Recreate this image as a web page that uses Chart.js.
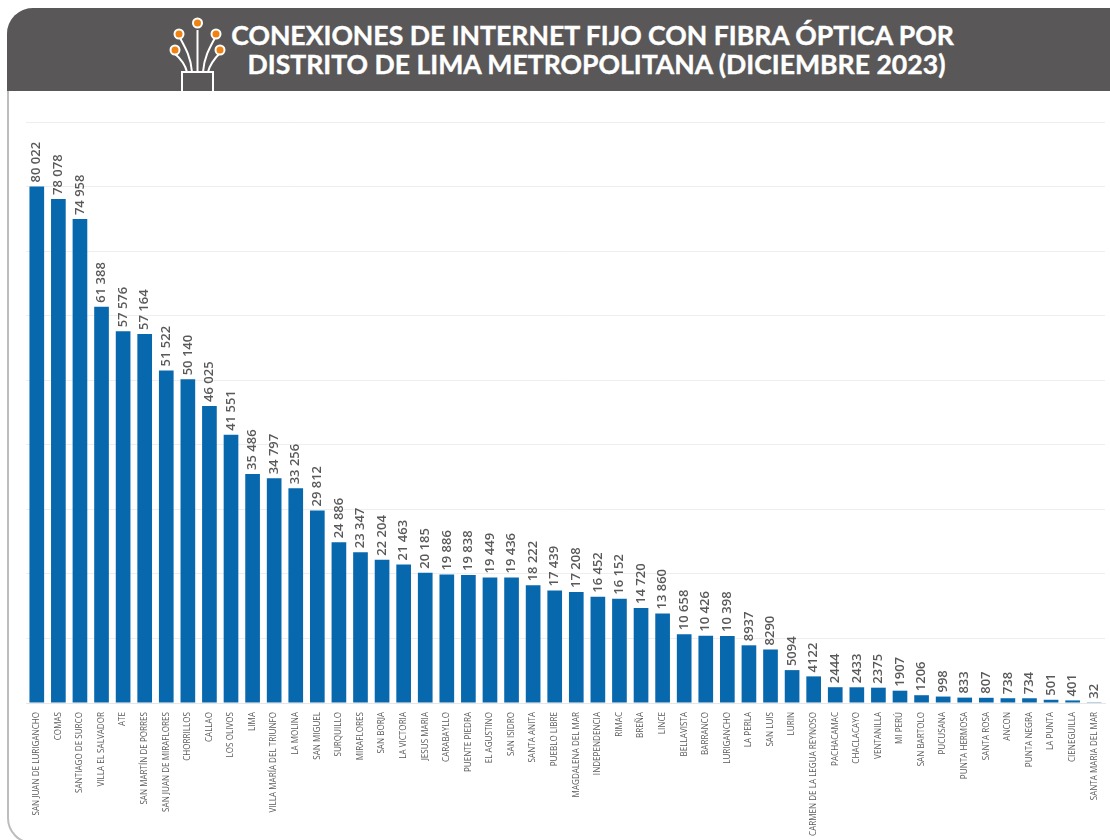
<!DOCTYPE html>
<html>
<head>
<meta charset="utf-8">
<script src="https://cdn.jsdelivr.net/npm/chart.js@4"></script>
<style>
    html, body { margin: 0; padding: 0; background: #fff; overflow: hidden; }
    #page { position: relative; width: 1110px; height: 840px; overflow: hidden; }
    #frame { position: absolute; left: 7px; top: 8px; width: 1130px; height: 836px; border: 2px solid #bdbdbd; border-radius: 26px; box-sizing: border-box; }
    #header { position: absolute; left: 7px; top: 8px; width: 1130px; height: 83px; background: #595757; border-radius: 26px 26px 0 0; }
    .title { position: absolute; font-family: Lato, sans-serif; font-weight: 700; font-size: 26.6px; line-height: 28px; color: #fff; white-space: nowrap; transform: translateX(-50%); -webkit-text-stroke: 0.4px #fff; }
    #chart-wrap { position: absolute; left: 0; top: 0; width: 1110px; height: 840px; }
</style>
</head>
<body>
<div id="page">
    <div id="frame"></div>
    <div id="header"></div>
    <svg style="position:absolute;left:165px;top:12px" width="65" height="82" viewBox="0 0 65 82">
        <g fill="none" stroke="#fff" stroke-width="2">
            <rect x="17" y="60" width="31" height="24"/>
            <path d="M32.5 60V18"/>
            <path d="M27 60C26 45 20 35 14 24"/>
            <path d="M38 60C39 45 45 35 51 24"/>
            <path d="M22 60C20 52 15 46 9 41"/>
            <path d="M43 60C45 52 50 46 55 41"/>
        </g>
        <g fill="#ef8210" stroke="#fff" stroke-width="2">
            <circle cx="32.5" cy="11" r="4.5"/>
            <circle cx="14" cy="22" r="4.5"/>
            <circle cx="51" cy="22" r="4.5"/>
            <circle cx="10" cy="38" r="4.5"/>
            <circle cx="55" cy="38" r="4.5"/>
        </g>
    </svg>
    <div class="title" style="left:592.5px;top:21px">CONEXIONES DE INTERNET FIJO CON FIBRA ÓPTICA POR</div>
    <div class="title" style="left:596.5px;top:50px">DISTRITO DE LIMA METROPOLITANA (DICIEMBRE 2023)</div>
    <div id="chart-wrap"><canvas id="chartFibra"></canvas></div>
</div>
<script>
const distritos = [
    "SAN JUAN DE LURIGANCHO", "COMAS", "SANTIAGO DE SURCO", "VILLA EL SALVADOR", "ATE",
    "SAN MARTÍN DE PORRES", "SAN JUAN DE MIRAFLORES", "CHORRILLOS", "CALLAO", "LOS OLIVOS",
    "LIMA", "VILLA MARÍA DEL TRIUNFO", "LA MOLINA", "SAN MIGUEL", "SURQUILLO",
    "MIRAFLORES", "SAN BORJA", "LA VICTORIA", "JESUS MARIA", "CARABAYLLO",
    "PUENTE PIEDRA", "EL AGUSTINO", "SAN ISIDRO", "SANTA ANITA", "PUEBLO LIBRE",
    "MAGDALENA DEL MAR", "INDEPENDENCIA", "RIMAC", "BREÑA", "LINCE",
    "BELLAVISTA", "BARRANCO", "LURIGANCHO", "LA PERLA", "SAN LUIS",
    "LURIN", "CARMEN DE LA LEGUA REYNOSO", "PACHACAMAC", "CHACLACAYO", "VENTANILLA",
    "MI PERÚ", "SAN BARTOLO", "PUCUSANA", "PUNTA HERMOSA", "SANTA ROSA",
    "ANCON", "PUNTA NEGRA", "LA PUNTA", "CIENEGUILLA", "SANTA MARIA DEL MAR"
];
const conexiones = [
    80022, 78078, 74958, 61388, 57576,
    57164, 51522, 50140, 46025, 41551,
    35486, 34797, 33256, 29812, 24886,
    23347, 22204, 21463, 20185, 19886,
    19838, 19449, 19436, 18222, 17439,
    17208, 16452, 16152, 14720, 13860,
    10658, 10426, 10398, 8937, 8290,
    5094, 4122, 2444, 2433, 2375,
    1907, 1206, 998, 833, 807,
    738, 734, 501, 401, 32
];

function formatValue(v) {
    if (v < 10000) return String(v);
    const s = String(v);
    return s.slice(0, -3) + " " + s.slice(-3);
}

// etiquetas de valor giradas sobre cada barra
const valueLabels = {
    id: "valueLabels",
    afterDatasetsDraw(chart) {
        const ctx = chart.ctx;
        const meta = chart.getDatasetMeta(0);
        ctx.save();
        ctx.font = "600 13px 'Open Sans'";
        ctx.fillStyle = "#595959";
        ctx.textAlign = "left";
        ctx.textBaseline = "middle";
        meta.data.forEach((bar, i) => {
            ctx.save();
            ctx.translate(bar.x, bar.y - 4);
            ctx.rotate(-Math.PI / 2);
            ctx.fillText(formatValue(conexiones[i]), 0, 0);
            ctx.restore();
        });
        ctx.restore();
    }
};

new Chart(document.getElementById("chartFibra"), {
    type: "bar",
    data: {
        labels: distritos,
        datasets: [{
            data: conexiones,
            backgroundColor: "#0868ae",
            barPercentage: 0.68,
            categoryPercentage: 1
        }]
    },
    options: {
        responsive: true,
        maintainAspectRatio: false,
        animation: false,
        layout: { padding: { left: 26, right: 5, top: 122, bottom: 0 } },
        plugins: { legend: { display: false }, tooltip: { enabled: false } },
        scales: {
            x: {
                afterFit: (scale) => { scale.height = 137; },
                grid: { display: false },
                border: { color: "#e6e6e6" },
                ticks: {
                    autoSkip: false,
                    minRotation: 90,
                    maxRotation: 90,
                    padding: 1,
                    color: "#595959",
                    font: { family: "'Open Sans'", size: 8.1 }
                }
            },
            y: {
                min: 0,
                max: 90000,
                afterFit: (scale) => { scale.width = 0; },
                border: { display: false },
                grid: { color: "#eeeeee", drawTicks: false },
                ticks: { display: false, stepSize: 10000 }
            }
        }
    },
    plugins: [valueLabels]
});
</script>
</body>
</html>
